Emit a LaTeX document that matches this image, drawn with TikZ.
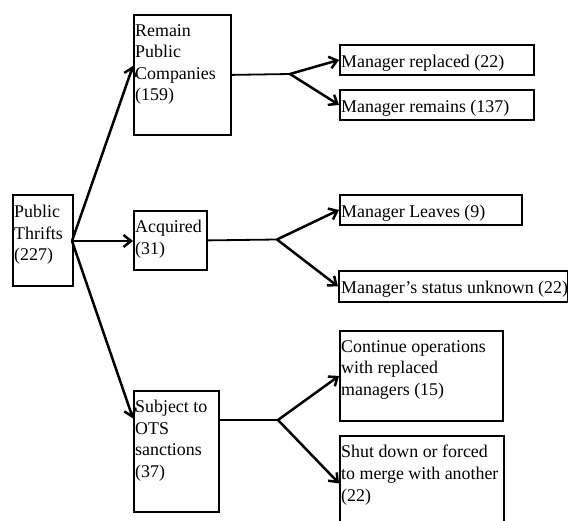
\documentclass[tikz,border=0pt]{standalone}
\usepackage{fontspec}
\setmainfont{Liberation Serif}
\usetikzlibrary{arrows.meta}
\begin{document}
\begin{tikzpicture}[x=1pt,y=-1pt,
 box/.style={draw,line width=1.8pt,anchor=north west,inner sep=0pt},
 txt/.style={anchor=north west,align=left,inner sep=0pt,font=\fontsize{17.9}{21.6}\selectfont,execute at begin node=\rule{0pt}{13pt}},
 arr/.style={line width=2.5pt,-{Straight Barb[length=7.5pt,width=12pt]}},
 ln/.style={line width=1.8pt}]
\useasboundingbox (0,0) rectangle (568,521);
\clip (0,0) rectangle (568,521);
% boxes
\node[box,minimum width=60pt,minimum height=91pt] (pt) at (12,194) {};
\node[box,minimum width=97pt,minimum height=120pt] (rpc) at (133,14) {};
\node[box,minimum width=73pt,minimum height=59pt] (acq) at (133,210) {};
\node[box,minimum width=85pt,minimum height=121pt] (sub) at (133,390) {};
\node[box,minimum width=194pt,minimum height=30pt] (mrep) at (339,44) {};
\node[box,minimum width=194pt,minimum height=30pt] (mrem) at (339,89) {};
\node[box,minimum width=182pt,minimum height=30pt] (ml) at (339,194) {};
\node[box,minimum width=229pt,minimum height=31pt] (msu) at (338,270) {};
\node[box,minimum width=163pt,minimum height=90pt] (cont) at (339,330) {};
\node[box,minimum width=164pt,minimum height=95pt] (shut) at (339,435) {};
% texts
\node[txt] (pt-t) at (14,205) {Public\\Thrifts\\(227)};
\node[txt] (rpc-t) at (135,24) {Remain\\Public\\Companies\\(159)};
\node[txt] (acq-t) at (135,220) {Acquired\\(31)};
\node[txt] (sub-t) at (135,400) {Subject to\\OTS\\sanctions\\(37)};
\node[txt] (mrep-t) at (341,54) {Manager replaced (22)};
\node[txt] (mrem-t) at (341,99) {Manager remains (137)};
\node[txt] (ml-t) at (341,204) {Manager Leaves (9)};
\node[txt] (msu-t) at (341,280) {Manager’s status unknown (22)};
\node[txt] (cont-t) at (341,340) {Continue operations\\with replaced\\managers (15)};
\node[txt] (shut-t) at (341,445) {Shut down or forced\\to merge with another\\(22)};
% fork points
\coordinate (f1) at (290,74);
\coordinate (f2) at (277,239.5);
\coordinate (f3) at (278,420);
\coordinate (ps) at (72,241);
% connectors
\draw[arr] (ps) -- ([yshift=9pt]rpc.west);
\draw[arr] (ps) -- (acq.west |- ps);
\draw[arr] (ps) -- ([yshift=33pt]sub.west);
\draw[ln] (rpc.east) -- (f1);
\draw[arr] (f1) -- (mrep.west);
\draw[arr] (f1) -- (mrem.west);
\draw[ln] (acq.east) -- (f2);
\draw[arr] (f2) -- (ml.west);
\draw[arr] (f2) -- (msu.west);
\draw[ln] (f3 -| sub.east) -- (f3);
\draw[arr] (f3) -- (cont.west);
\draw[arr] (f3) -- (shut.west);
\end{tikzpicture}
\end{document}
